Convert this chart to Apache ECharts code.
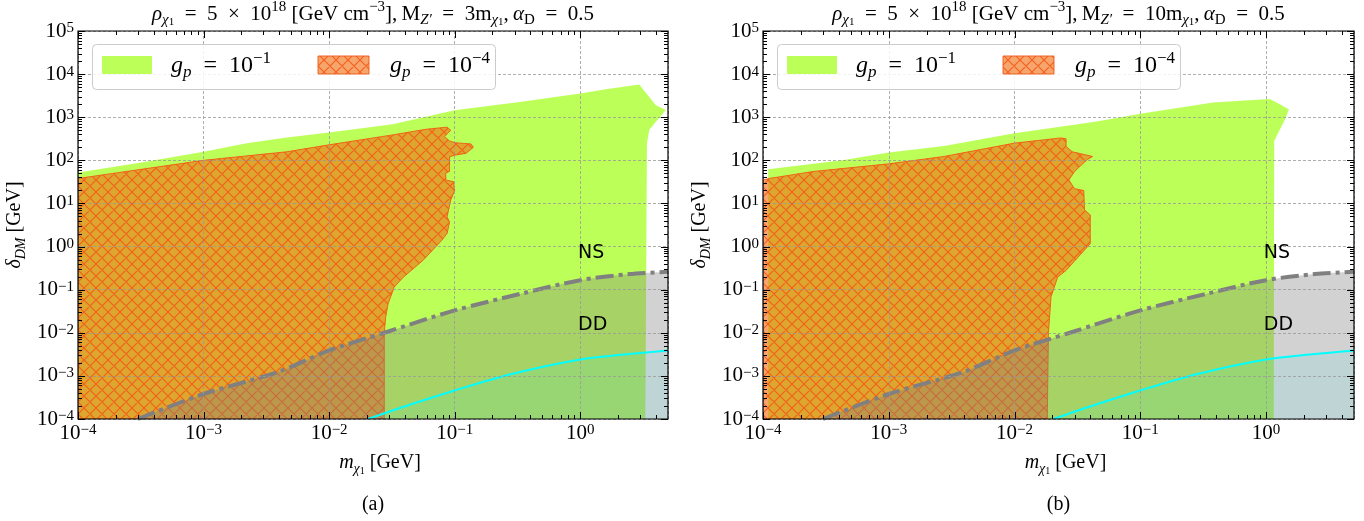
<!DOCTYPE html>
<html><head><meta charset="utf-8">
<script src="https://cdn.jsdelivr.net/npm/echarts@6/dist/echarts.min.js"></script>
<style>html,body{margin:0;padding:0;background:#fff}#c{width:1364px;height:521px}</style>
</head><body><div id="c"></div>
<script>
// ---------------- data ----------------
const X_MIN = 1e-4, X_MAX = 5, Y_MIN = 1e-4, Y_MAX = 1e5;
const xMajorTicks = [1e-4, 1e-3, 1e-2, 1e-1, 1];
const yMajorTicks = [1e-4, 1e-3, 1e-2, 1e-1, 1, 1e1, 1e2, 1e3, 1e4, 1e5];
const panelTitles = ['3', '10']; // M_Z' = N m_chi1
const panelCaptions = ['(a)', '(b)'];
const legendLabels = ['−1', '−4'];

// g_p = 1e-1 region (panel a), polygon [m, delta]
const greenA = [[1e-4,1e-4],[1e-4,52],[3.2e-4,89],[1e-3,158],[2.2e-3,250],[4.6e-3,340],[1e-2,440],[3.2e-2,690],[0.1,1450],[0.34,2300],[1.0,3550],[1.6,4470],[2.95,5750],[4.0,1900],[4.8,1480],[3.55,510],[3.4,250],[3.3,1e-4]];
// g_p = 1e-4 region (panel a)
const orangeA = [[1e-4,1e-4],[1e-4,38],[1e-3,100],[4.6e-3,158],[1e-2,229],[3.2e-2,389],[0.059,525],[0.087,589],[0.093,500],[0.083,355],[0.091,282],[0.1,257],[0.135,240],[0.141,200],[0.123,145],[0.1,132],[0.091,120],[0.091,55],[0.085,51],[0.085,35],[0.098,32],[0.1,20],[0.093,12],[0.087,4.9],[0.091,3.7],[0.087,2.0],[0.079,1.4],[0.056,0.48],[0.039,0.195],[0.033,0.115],[0.0295,0.047],[0.0282,0.023],[0.0275,0.01],[0.0275,1e-4]];
// g_p = 1e-1 region (panel b)
const greenB = [[1.1e-4,1e-4],[1.1e-4,62],[4.4e-4,102],[1e-3,151],[2.75e-3,214],[1e-2,427],[0.045,794],[0.1,1200],[0.38,2190],[0.63,2400],[1.07,2630],[1.33,1900],[1.52,1510],[1.41,870],[1.23,400],[1.16,282],[1.15,1e-4]];
// g_p = 1e-4 region (panel b)
const orangeB = [[1e-4,1e-4],[1e-4,35],[1.12e-4,38],[2.5e-4,55],[1e-3,83],[2.75e-3,123],[1e-2,251],[0.0234,331],[0.0257,316],[0.0257,209],[0.0288,158],[0.0417,123],[0.038,105],[0.034,78],[0.030,55],[0.027,35],[0.030,22],[0.0355,20],[0.036,7.1],[0.040,5.4],[0.040,1.17],[0.0257,0.28],[0.022,0.195],[0.0195,0.068],[0.0186,0.01],[0.0182,1e-4]];
// DD bound (dash-dot)
const ddX = [3.0e-4, 1e-3, 3.9e-3, 1e-2, 0.0275, 0.1, 0.34, 1, 2.45, 5];
const ddY = [1e-4, 3.8e-4, 1.23e-3, 3.9e-3, 0.01, 0.033, 0.081, 0.166, 0.23, 0.26];
// cyan curve
const cyX = [0.0204, 0.045, 0.1, 0.29, 1, 2.45, 5];
const cyY = [1e-4, 2.2e-4, 4.6e-4, 1.12e-3, 2.4e-3, 3.2e-3, 3.9e-3];
// region labels
const regionLabels = ['NS', 'DD'];
const regionLabelX = [0.96, 0.96];
const regionLabelY = [0.70, 0.0148];

// ---------------- styles ----------------
const FAM = "'Liberation Serif','DejaVu Serif',serif";
const SANS = "'DejaVu Sans',sans-serif";
const GREEN = 'rgba(173,255,47,0.8)';
const ORANGE_FACE = 'rgba(240,112,20,0.62)';
const ORANGE_EDGE = 'rgba(240,90,20,0.9)';
const HATCH = 'rgba(245,90,25,0.95)';
const SP = '\u2002';

function makeHatch() {
  const s = 12, c = document.createElement('canvas');
  c.width = s; c.height = s;
  const g = c.getContext('2d');
  g.strokeStyle = HATCH; g.lineWidth = 1.1;
  g.beginPath();
  for (const d of [-s, 0, s]) {
    g.moveTo(d, 0); g.lineTo(d + s, s);
    g.moveTo(d, s); g.lineTo(d + s, 0);
  }
  g.stroke();
  return c;
}
const hatchPattern = { image: makeHatch(), repeat: 'repeat' };

function tok(size, italic, lh, va) {
  const o = {
    fontFamily: FAM, fontSize: size, fontStyle: italic ? 'italic' : 'normal',
    font: (italic ? 'italic ' : '') + size + 'px ' + FAM,
    lineHeight: lh, color: '#000', fill: '#000'
  };
  if (va) o.verticalAlign = va;
  return o;
}
const richTick = { n: tok(21, false, 20), p: tok(15, false, 11, 'top') };
function richText(fs) {
  const sm = Math.round(fs * 0.7), ss = Math.round(fs * 0.52);
  return {
    n: tok(fs, false, fs + 7),
    i: tok(fs, true, fs + 7),
    p: tok(sm, false, sm, 'top'),
    s: tok(sm, true, fs + 1, 'bottom'),
    sr: tok(sm, false, fs + 1, 'bottom'),
    ss: tok(ss, false, Math.round(fs * 0.75), 'bottom')
  };
}
function powFmt(v) {
  const l = Math.log10(v), e = Math.round(l);
  if (Math.abs(l - e) > 1e-6) return '';
  return '{n|10}{p|' + (e < 0 ? '−' + (-e) : e) + '}';
}

const grids = [
  { left: 78, top: 31, width: 590, height: 388 },
  { left: 763, top: 31, width: 591, height: 388 }
];
const panelDX = [0, 685];

function polySeries(gi, pts, style, z) {
  return {
    type: 'custom', xAxisIndex: gi, yAxisIndex: gi, z: z, silent: true, clip: true,
    data: pts,
    renderItem: function (params, api) {
      if (params.dataIndex !== 0) return null;
      const points = pts.map(function (p) { return api.coord(p); });
      return { type: 'polygon', shape: { points: points }, style: style };
    }
  };
}
function minorList(majors, max) {
  const out = [];
  majors.forEach(function (m) {
    for (let k = 2; k <= 9; k++) { const v = m * k; if (v < max) out.push(v); }
  });
  return out;
}
const xMinor = minorList(xMajorTicks, X_MAX);
const yMinor = minorList(yMajorTicks.slice(0, -1), Y_MAX);

function tickSeries(gi) {
  return {
    type: 'custom', xAxisIndex: gi, yAxisIndex: gi, z: 30, silent: true, clip: false,
    data: [[1, 1]],
    renderItem: function (params, api) {
      const ch = [];
      const st = { stroke: '#000', lineWidth: 1 };
      function addX(v, L) {
        const b = api.coord([v, Y_MIN]), t = api.coord([v, Y_MAX]);
        const x = Math.round(b[0]) + 0.5;
        ch.push({ type: 'line', shape: { x1: x, y1: b[1], x2: x, y2: b[1] - L }, style: st });
        ch.push({ type: 'line', shape: { x1: x, y1: t[1], x2: x, y2: t[1] + L }, style: st });
      }
      function addY(v, L) {
        const l = api.coord([X_MIN, v]), r = api.coord([X_MAX, v]);
        const y = Math.round(l[1]) + 0.5;
        ch.push({ type: 'line', shape: { x1: l[0], y1: y, x2: l[0] + L, y2: y }, style: st });
        ch.push({ type: 'line', shape: { x1: r[0], y1: y, x2: r[0] - L, y2: y }, style: st });
      }
      xMajorTicks.forEach(function (v) { addX(v, 7); });
      xMinor.forEach(function (v) { addX(v, 4); });
      yMajorTicks.forEach(function (v) { addY(v, 7); });
      yMinor.forEach(function (v) { addY(v, 4); });
      return { type: 'group', children: ch };
    }
  };
}
function labelSeries(gi) {
  return {
    type: 'custom', xAxisIndex: gi, yAxisIndex: gi, z: 12, silent: true,
    data: regionLabels.map(function (t, i) { return [regionLabelX[i], regionLabelY[i]]; }),
    renderItem: function (params, api) {
      const c = api.coord([api.value(0), api.value(1)]);
      return { type: 'text', x: c[0], y: c[1], style: { text: regionLabels[params.dataIndex], font: '19px ' + SANS, fill: '#000', align: 'left', verticalAlign: 'middle' } };
    }
  };
}
function zip(a, b) { return a.map(function (v, i) { return [v, b[i]]; }); }

const xAxes = [], yAxes = [], series = [], graphics = [];
[0, 1].forEach(function (gi) {
  xAxes.push({
    gridIndex: gi, type: 'log', logBase: 10, min: X_MIN, max: X_MAX, z: 10, splitNumber: 5,
    axisLine: { show: false }, axisTick: { show: false }, minorTick: { show: false },
    axisLabel: { formatter: powFmt, rich: richTick, margin: 4, showMaxLabel: false },
    splitLine: { show: true, lineStyle: { color: '#999999', type: [3, 2], width: 0.8 } },
    name: '{i|m}{s|χ}{ss|1}{n| [GeV]}', nameLocation: 'middle', nameGap: 30,
    nameTextStyle: { rich: richText(20), padding: [0, 0, 0, 14] }
  });
  yAxes.push({
    gridIndex: gi, type: 'log', logBase: 10, min: Y_MIN, max: Y_MAX, z: 10, splitNumber: 9,
    axisLine: { show: false }, axisTick: { show: false }, minorTick: { show: false },
    axisLabel: { formatter: powFmt, rich: richTick, margin: 4 },
    splitLine: { show: true, lineStyle: { color: '#999999', type: [3, 2], width: 0.8 } },
    name: '{i|δ}{s|DM}{n| [GeV]}', nameLocation: 'middle', nameGap: 50, nameRotate: 90,
    nameTextStyle: { rich: richText(20) }
  });
  const green = gi === 0 ? greenA : greenB;
  const orange = gi === 0 ? orangeA : orangeB;
  series.push(polySeries(gi, green, { fill: GREEN }, 2));
  series.push(polySeries(gi, orange, { fill: ORANGE_FACE, stroke: ORANGE_EDGE, lineWidth: 1 }, 3));
  series.push(polySeries(gi, orange, { fill: hatchPattern }, 4));
  series.push({
    type: 'line', xAxisIndex: gi, yAxisIndex: gi, z: 5, silent: true, symbol: 'none',
    smooth: 0.3, data: zip(ddX, ddY),
    lineStyle: { color: '#808080', width: 4, type: [18, 5, 4, 5], cap: 'butt' },
    areaStyle: { color: 'rgba(128,128,128,0.5)', origin: 'start' }
  });
  series.push({
    type: 'line', xAxisIndex: gi, yAxisIndex: gi, z: 6, silent: true, symbol: 'none',
    smooth: 0.3, data: zip(cyX, cyY),
    lineStyle: { color: '#00ffff', width: 2 },
    areaStyle: { color: 'rgba(0,255,255,0.12)', origin: 'start' }
  });
  series.push(labelSeries(gi));
  series.push(tickSeries(gi));

  const dx = panelDX[gi];
  const cx = grids[gi].left + grids[gi].width / 2;
  // title
  graphics.push({
    type: 'text', x: cx, y: 14, z: 50,
    style: {
      text: '{i|ρ}{s|χ}{ss|1}{n|' + SP + '=' + SP + '5' + SP + '×' + SP + '10}{p|18}{n| [GeV cm}{p|−3}{n|],\u2009M}{s|Z′}{n|' + SP + '=' + SP + panelTitles[gi] + 'm}{s|χ}{ss|1}{n|,\u2009}{i|α}{sr|D}{n|' + SP + '=' + SP + '0.5}',
      rich: richText(21), font: '21px ' + FAM, align: 'center', verticalAlign: 'middle'
    }
  });
  // caption
  graphics.push({ type: 'text', x: cx, y: 505, z: 50, style: { text: panelCaptions[gi], font: '20px ' + FAM, fill: '#000', align: 'center', verticalAlign: 'middle' } });
  // legend
  graphics.push({ type: 'rect', z: 40, shape: { x: 92.5 + dx, y: 44.5, width: 403, height: 45, r: 4 }, style: { fill: 'rgba(255,255,255,0.85)', stroke: '#cccccc', lineWidth: 1 } });
  graphics.push({ type: 'rect', z: 41, shape: { x: 102 + dx, y: 56, width: 50, height: 18 }, style: { fill: GREEN } });
  graphics.push({ type: 'rect', z: 41, shape: { x: 318 + dx, y: 56, width: 51, height: 18 }, style: { fill: ORANGE_FACE, stroke: ORANGE_EDGE, lineWidth: 1 } });
  graphics.push({ type: 'rect', z: 42, shape: { x: 318 + dx, y: 56, width: 51, height: 18 }, style: { fill: hatchPattern } });
  [0, 1].forEach(function (k) {
    graphics.push({
      type: 'text', z: 42, x: (k === 0 ? 171 : 390) + dx, y: 66,
      style: { text: '{i|g}{s|p}{n|' + SP + '=' + SP + '10}{p|' + legendLabels[k] + '}', rich: richText(24), font: '24px ' + FAM, align: 'left', verticalAlign: 'middle' }
    });
  });
});

const chart = echarts.init(document.getElementById('c'), null, { renderer: 'canvas' });
chart.setOption({
  animation: false,
  backgroundColor: '#fff',
  grid: grids.map(function (g) { return Object.assign({ show: true, borderColor: '#000', borderWidth: 1.2, backgroundColor: 'transparent', z: 20 }, g); }),
  xAxis: xAxes,
  yAxis: yAxes,
  series: series,
  graphic: graphics
});
</script>
</body></html>
